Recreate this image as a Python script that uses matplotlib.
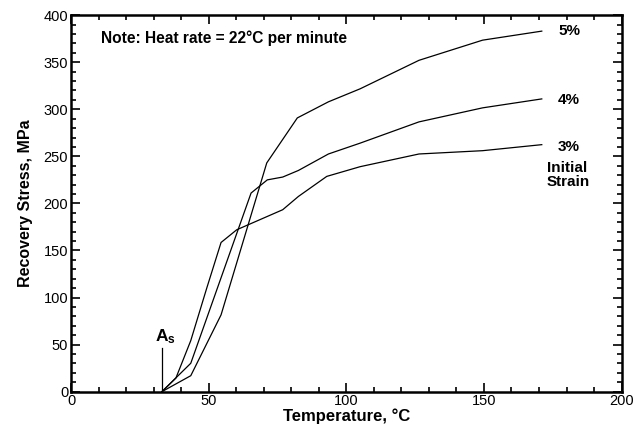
import matplotlib
matplotlib.use("Agg")
import matplotlib.pyplot as plt
from matplotlib.ticker import MultipleLocator

plt.rcParams['font.family'] = ['Liberation Sans', 'DejaVu Sans']
plt.rcParams['mathtext.fontset'] = 'custom'
plt.rcParams['mathtext.rm'] = 'Liberation Sans'
plt.rcParams['mathtext.bf'] = 'Liberation Sans:bold'

# Recovery stress vs temperature for three initial strains
temp_3 = [33, 38.1, 43.5, 49.3, 54.5, 60.2, 76.9, 82.6, 92.9, 105, 126.4, 149.5, 171]
stress_3 = [0, 14.5, 54.3, 110, 158.5, 172, 193.3, 207.4, 228.7, 239, 252.5, 256, 262.4]

temp_4 = [33, 43.5, 65.4, 71.3, 76.9, 82.6, 93.5, 105, 126.4, 149.5, 171]
stress_4 = [0, 30.2, 211, 225, 228, 235, 252.5, 264, 286.6, 301.5, 311]

temp_5 = [33, 43.5, 54.5, 71.1, 82.2, 93.5, 105, 126.4, 149.5, 171]
stress_5 = [0, 17, 81.6, 243, 290.8, 307.9, 321.7, 352, 373.4, 383]

as_temp = 33
as_height = 46

fig = plt.figure(figsize=(6.33, 4.32), dpi=100)
ax = fig.add_axes([0.1122, 0.0933, 0.8698, 0.8717])

for t, s in [(temp_3, stress_3), (temp_4, stress_4), (temp_5, stress_5)]:
    ax.plot(t, s, color='black', lw=0.9)

# A_s marker
ax.plot([as_temp, as_temp], [0, as_height], color='black', lw=0.9)
ax.text(as_temp + 1.2, as_height + 3, r'$\mathbf{A_s}$', ha='center', va='bottom', fontsize=12.5)

ax.set_xlim(0, 200)
ax.set_ylim(0, 400)
ax.xaxis.set_major_locator(MultipleLocator(50))
ax.xaxis.set_minor_locator(MultipleLocator(10))
ax.yaxis.set_major_locator(MultipleLocator(50))
ax.yaxis.set_minor_locator(MultipleLocator(10))
ax.tick_params(which='both', direction='in', top=True, right=True, width=1.2,
               labelsize=10.5, pad=2)
ax.tick_params(which='major', length=6.5)
ax.tick_params(which='minor', length=3.5)
for sp in ax.spines.values():
    sp.set_linewidth(1.8)

ax.set_xlabel('Temperature, °C', fontsize=12, fontweight='bold', labelpad=0)
ax.set_ylabel('Recovery Stress, MPa', fontsize=11.5, fontweight='bold', labelpad=8)

ax.text(10.8, 375, 'Note: Heat rate = 22°C per minute', fontsize=11.2,
        fontweight='bold', va='center', ha='left')

ax.text(176.9, 383, '5%', fontsize=11, fontweight='bold', va='center', ha='left')
ax.text(176.9, 310, '4%', fontsize=11, fontweight='bold', va='center', ha='left')
ax.text(176.9, 260, '3%', fontsize=11, fontweight='bold', va='center', ha='left')
ax.text(172.9, 230, 'Initial\nStrain', fontsize=11, fontweight='bold',
        va='center', ha='left', linespacing=1.0)

fig.savefig('out.png', dpi=100)
